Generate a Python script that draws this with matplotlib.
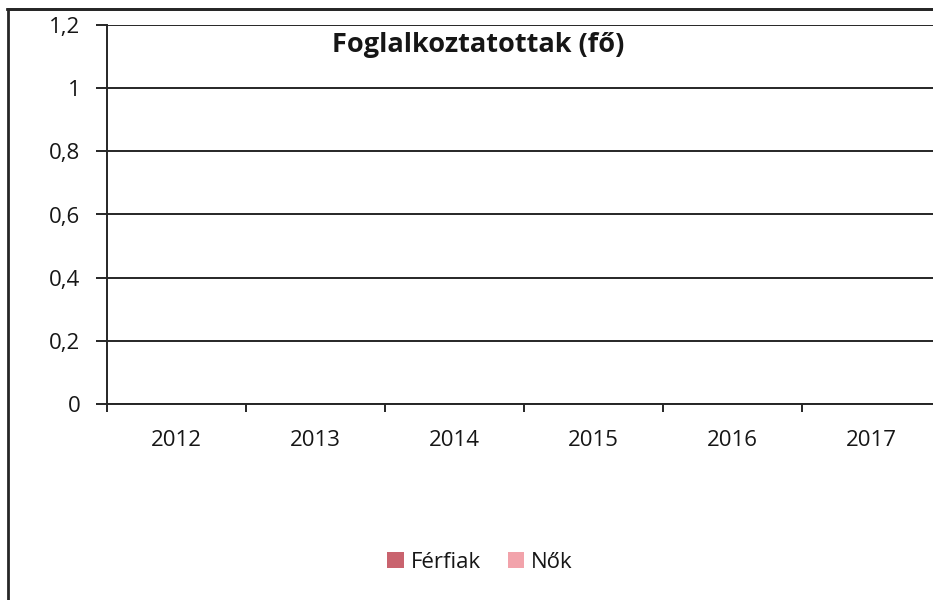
import matplotlib
matplotlib.use("Agg")
import matplotlib.pyplot as plt
import numpy as np

years = ["2012", "2013", "2014", "2015", "2016", "2017"]
ferfiak = [0, 0, 0, 0, 0, 0]
nok = [0, 0, 0, 0, 0, 0]
yticks = [0, 0.2, 0.4, 0.6, 0.8, 1.0, 1.2]
ytick_labels = ["0", "0,2", "0,4", "0,6", "0,8", "1", "1,2"]

plt.rcParams['font.family'] = ['Open Sans', 'DejaVu Sans']
line_col = "#262626"
text_col = "#161616"

W, H = 933, 600
fig = plt.figure(figsize=(W / 100, H / 100), dpi=100)

# pixel-space layer for the outer chart frame (runs off right and bottom edges)
bg = fig.add_axes([0, 0, 1, 1], zorder=-1)
bg.set_xlim(0, W)
bg.set_ylim(H, 0)
bg.axis("off")
bg.plot([7.5, 7.5, W + 5], [H + 5, 8.5, 8.5], color=line_col, linewidth=2.0,
        solid_joinstyle="miter", clip_on=False)
bg.axhline(8.5, xmin=7.5 / W, xmax=1, color=line_col, linewidth=2.0)

ax = fig.add_axes([107 / W, 1 - 404 / H, (941 - 107) / W, (404 - 25) / H])
ax.patch.set_alpha(0)

x = np.arange(len(years))
w = 0.3
b1 = ax.bar(x - w / 2, ferfiak, w, color="#c9636e", label="Férfiak")
b2 = ax.bar(x + w / 2, nok, w, color="#f2a3ab", label="Nők")

ax.set_xlim(-0.5, len(years) - 0.5)
ax.set_ylim(0, 1.2)
ax.set_yticks(yticks)
ax.set_yticklabels(ytick_labels)
ax.yaxis.grid(True, color=line_col, linewidth=1.4)
ax.set_axisbelow(True)

ax.set_xticks(x)
ax.set_xticklabels(years)
ax.set_xticks(np.arange(len(years) + 1) - 0.5, minor=True)
ax.tick_params(axis="x", which="major", length=0, pad=19, labelsize=16, labelcolor=text_col)
ax.tick_params(axis="x", which="minor", length=6, width=1.4, color=line_col, direction="out")
ax.tick_params(axis="y", length=8, width=1.4, color=line_col, pad=11, labelsize=16, labelcolor=text_col)

for s in ["top", "right"]:
    ax.spines[s].set_visible(False)
for s in ["left", "bottom"]:
    ax.spines[s].set_color(line_col)
    ax.spines[s].set_linewidth(1.4)

fig.text(478 / W, 1 - 45 / H, "Foglalkoztatottak (fő)", ha="center", va="center",
         fontsize=19.5, fontweight="bold", color=text_col)

fig.legend(handles=[b1, b2], loc="center", bbox_to_anchor=(480 / W, 1 - 562 / H),
           ncol=2, frameon=False, fontsize=16, handlelength=0.75, handleheight=0.75,
           handletextpad=0.3, columnspacing=1.2, labelcolor=text_col)

fig.savefig("out.png", dpi=100)
